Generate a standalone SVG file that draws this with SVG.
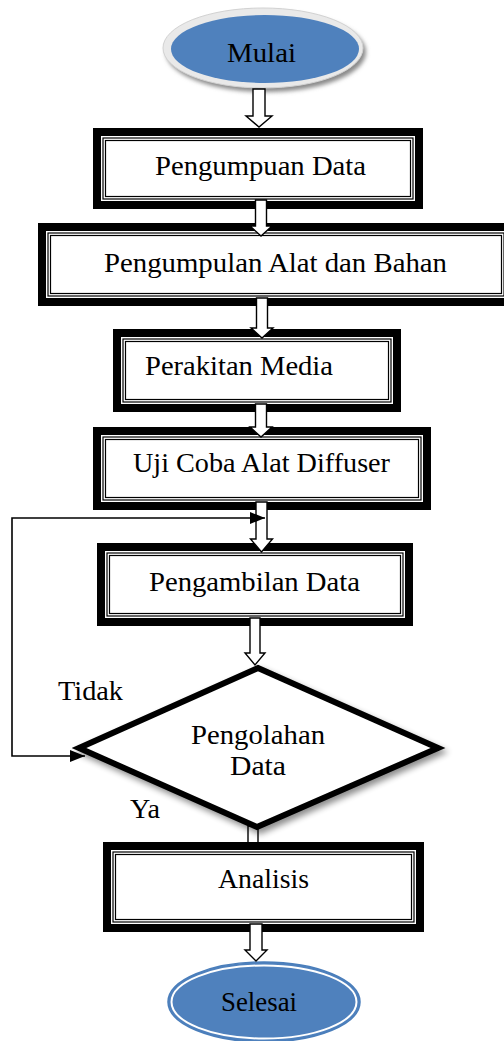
<svg xmlns="http://www.w3.org/2000/svg" width="504" height="1041" viewBox="0 0 504 1041">
<defs>
<style>
.thick{fill:#fff;stroke:#000;stroke-width:8}
.thin{fill:none;stroke:#000;stroke-width:1.2}
.lbl{font-family:"Liberation Serif","Times New Roman",serif;font-size:28px;fill:#000}
.mid{text-anchor:middle}
.harrow{fill:#fff;stroke:#000;stroke-width:1.4;stroke-linejoin:miter}
.fb{fill:none;stroke:#000;stroke-width:1.6}
</style>
<filter id="shadow" x="-15%" y="-15%" width="135%" height="140%">
<feGaussianBlur in="SourceAlpha" stdDeviation="3"/>
<feOffset dx="3" dy="4" result="b"/>
<feComponentTransfer><feFuncA type="linear" slope="0.45"/></feComponentTransfer>
<feMerge><feMergeNode/><feMergeNode in="SourceGraphic"/></feMerge>
</filter>
<filter id="blur" x="-20%" y="-20%" width="140%" height="140%"><feGaussianBlur stdDeviation="2"/></filter>
<marker id="ah" viewBox="0 0 15 12" refX="15" refY="6" markerWidth="15" markerHeight="12" markerUnits="userSpaceOnUse" orient="auto-start-reverse">
<path d="M0,0 L15,6 L0,12 z" fill="#000"/>
</marker>
</defs>

<g id="mulai">
<ellipse cx="266" cy="52" rx="100" ry="40" fill="#8a8a8a" filter="url(#blur)"/>
<ellipse cx="263" cy="48" rx="100" ry="40" fill="#e9e9e9" stroke="#d2d2d2" stroke-width="1"/>
<ellipse cx="265" cy="49" rx="94" ry="34" fill="#4f81bd"/>
<text class="lbl mid" x="261.5" y="62" textLength="69" lengthAdjust="spacingAndGlyphs">Mulai</text>
</g>

<g id="arrow-diamond-analisis">
<rect x="248" y="826" width="10" height="18" class="harrow"/>
</g>

<g id="pengumpuan-data">
<rect class="thick" x="97" y="132" width="322" height="73"/>
<rect class="thin" x="103" y="138" width="310" height="61"/>
<rect class="thin" x="105.5" y="140.5" width="305" height="56"/>
<text class="lbl mid" x="260.5" y="175" textLength="211" lengthAdjust="spacingAndGlyphs">Pengumpuan Data</text>
</g>

<g id="pengumpulan-alat">
<rect class="thick" x="42" y="227" width="468" height="75"/>
<rect class="thin" x="48" y="233" width="456" height="63"/>
<rect class="thin" x="50.5" y="235.5" width="451" height="58"/>
<text class="lbl mid" x="275.5" y="272" textLength="343" lengthAdjust="spacingAndGlyphs">Pengumpulan Alat dan Bahan</text>
</g>

<g id="perakitan-media">
<rect class="thick" x="117" y="333" width="280" height="75"/>
<rect class="thin" x="123" y="339" width="268" height="63"/>
<rect class="thin" x="125.5" y="341.5" width="263" height="58"/>
<text class="lbl mid" x="239" y="375" textLength="188" lengthAdjust="spacingAndGlyphs">Perakitan Media</text>
</g>

<g id="uji-coba">
<rect class="thick" x="97" y="431" width="330" height="75"/>
<rect class="thin" x="103" y="437" width="318" height="63"/>
<rect class="thin" x="105.5" y="439.5" width="313" height="58"/>
<text class="lbl mid" x="261.5" y="472" textLength="257" lengthAdjust="spacingAndGlyphs">Uji Coba Alat Diffuser</text>
</g>

<g id="pengambilan-data">
<rect class="thick" x="101" y="547" width="308" height="75"/>
<rect class="thin" x="107" y="553" width="296" height="63"/>
<rect class="thin" x="109.5" y="555.5" width="291" height="58"/>
<text class="lbl mid" x="254.5" y="591" textLength="211" lengthAdjust="spacingAndGlyphs">Pengambilan Data</text>
</g>

<g id="pengolahan-data">
<polygon points="258,668 438,748 257,827 79,748" fill="#fff" stroke="#000" stroke-width="6" stroke-linejoin="miter" filter="url(#shadow)"/>
<text class="lbl mid" x="258" y="744" textLength="134" lengthAdjust="spacingAndGlyphs">Pengolahan</text>
<text class="lbl mid" x="258" y="775" textLength="56" lengthAdjust="spacingAndGlyphs">Data</text>
</g>

<g id="analisis">
<rect class="thick" x="107" y="846" width="313" height="82"/>
<rect class="thin" x="113" y="852" width="301" height="70"/>
<rect class="thin" x="115.5" y="854.5" width="296" height="65"/>
<text class="lbl mid" x="263.5" y="888" textLength="91" lengthAdjust="spacingAndGlyphs">Analisis</text>
</g>

<g id="selesai">
<ellipse cx="264" cy="1002" rx="96" ry="40" fill="#4f81bd" stroke="#4a7ebb" stroke-width="1.5"/>
<ellipse cx="264" cy="1002" rx="92.5" ry="36.5" fill="none" stroke="#fff" stroke-width="2"/>
<text class="lbl mid" x="259" y="1011" textLength="76" lengthAdjust="spacingAndGlyphs">Selesai</text>
</g>

<g id="connectors">
<polygon class="harrow" points="253,89 265,89 265,116 272,116 259,127 246,116 253,116"/>
<polygon class="harrow" points="255.5,200 266.5,200 266.5,226 272,226 261,236 250,226 255.5,226"/>
<polygon class="harrow" points="256.5,298 267.5,298 267.5,328 273,328 262,338 251,328 256.5,328"/>
<polygon class="harrow" points="255.5,404 266.5,404 266.5,427 272,427 261,437 250,427 255.5,427"/>
<polygon class="harrow" points="256,502 267,502 267,539 272.5,539 261.5,552 250.5,539 256,539"/>
<polygon class="harrow" points="250,618 260,618 260,653 265,653 255,665 245,653 250,653"/>
<polygon class="harrow" points="250,924 262,924 262,950 267,950 256,961 245,950 250,950"/>
<path class="fb" d="M85,756 H12 V518 H265" marker-start="url(#ah)" marker-end="url(#ah)"/>
<text class="lbl" x="58" y="700" textLength="65" lengthAdjust="spacingAndGlyphs">Tidak</text>
<text class="lbl" x="130" y="818" textLength="30" lengthAdjust="spacingAndGlyphs">Ya</text>
</g>
</svg>
